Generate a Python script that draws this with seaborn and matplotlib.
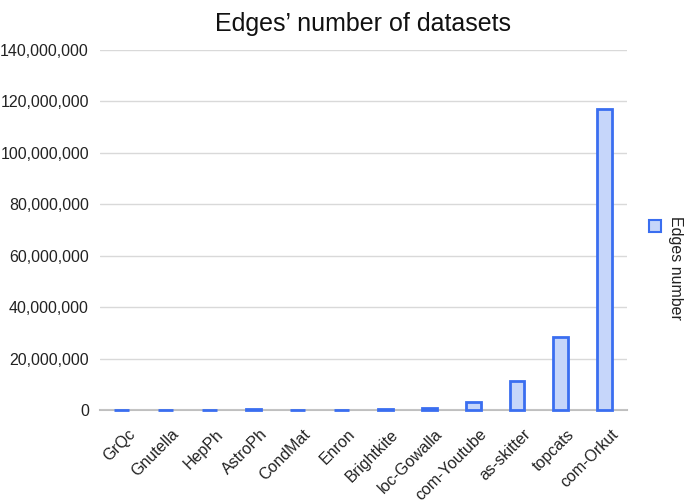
import matplotlib
matplotlib.use("Agg")
import matplotlib.pyplot as plt
import matplotlib.patches as mpatches
import matplotlib.transforms as mtransforms
from matplotlib.ticker import FuncFormatter
import seaborn as sns
import pandas as pd

# datos
datasets = ["GrQc", "Gnutella", "HepPh", "AstroPh", "CondMat", "Enron",
            "Brightkite", "loc-Gowalla", "com-Youtube", "as-skitter", "topcats", "com-Orkut"]
edges = [14496, 147892, 118521, 198110, 93497, 183831,
         214078, 950327, 2987624, 11095298, 28511807, 117185083]

df = pd.DataFrame({"dataset": datasets, "edges": edges})

sns.set_style("white")
plt.rcParams["font.family"] = ["Liberation Sans", "DejaVu Sans"]

fill = "#c6d6fa"
edge = "#3a6ef0"

fig = plt.figure(figsize=(6.85, 5.04), dpi=100)
ax = fig.add_axes([0.146, 0.1865, 0.769, 0.7143])

sns.barplot(data=df, x="dataset", y="edges", ax=ax, width=0.34,
            color=fill, edgecolor=edge, linewidth=2, saturation=1)
for p in ax.patches:
    p.set_clip_on(False)

ax.set_ylim(0, 140_000_000)
ax.set_yticks(range(0, 140_000_001, 20_000_000))
ax.yaxis.set_major_formatter(FuncFormatter(lambda v, p: f"{int(v):,}"))
ax.grid(axis="y", color="#d9d9d9", linewidth=1)
ax.set_axisbelow(True)
for s in ["top", "right", "left"]:
    ax.spines[s].set_visible(False)
ax.spines["bottom"].set_color("#bfbfbf")
ax.spines["bottom"].set_linewidth(1.5)
ax.spines["bottom"].set_zorder(0.5)
ax.tick_params(axis="both", length=0, labelsize=11.5, colors="#222222")
ax.tick_params(axis="y", pad=8)
ax.tick_params(axis="x", pad=12)
shift = mtransforms.ScaledTranslation(4 / 72, 0, fig.dpi_scale_trans)
for lbl in ax.get_xticklabels():
    lbl.set_rotation(45)
    lbl.set_ha("right")
    lbl.set_rotation_mode("anchor")
    lbl.set_transform(lbl.get_transform() + shift)
ax.set_xlabel("")
ax.set_ylabel("")
ax.set_title("Edges’ number of datasets", fontsize=18, pad=14, color="#111111")

# leyenda vertical
fig.patches.append(mpatches.Rectangle((0.9475, 0.5397), 0.0175, 0.0238, transform=fig.transFigure,
                                      facecolor=fill, edgecolor=edge, linewidth=1.5))
fig.text(0.975, 0.571, "Edges number", rotation=270, ha="left", va="top",
         fontsize=11.5, color="#222222")

fig.savefig("out.png", dpi=100)
